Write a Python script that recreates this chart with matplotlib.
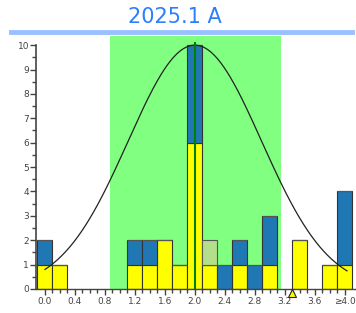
import numpy as np
import matplotlib.pyplot as plt

# Dados do histograma (centros das classes, largura 0.2)
centros = [0.0, 0.2, 1.2, 1.4, 1.6, 1.8, 2.0, 2.2, 2.4, 2.6, 2.8, 3.0, 3.4, 3.8, 4.0]
amarelo = [1, 1, 1, 1, 2, 1, 6, 1, 0, 1, 0, 1, 2, 1, 1]
azul = [1, 0, 1, 1, 0, 0, 4, 0, 1, 1, 1, 2, 0, 0, 3]
verde_claro = [0, 0, 0, 0, 0, 0, 0, 1, 0, 0, 0, 0, 0, 0, 0]

# Curva normal
media = 2.0
desvio = 0.89
pico = 10

# Faixa de tolerância (fundo verde) e marcador
faixa = (0.87, 3.15)
marcador_x = 3.3

rotulos_x = ['0.0', '0.4', '0.8', '1.2', '1.6', '2.0', '2.4', '2.8', '3.2', '3.6', '≥4.0']
valores_x = [0.0, 0.4, 0.8, 1.2, 1.6, 2.0, 2.4, 2.8, 3.2, 3.6, 4.0]

fig = plt.figure(figsize=(3.56, 3.13), dpi=100)
ax = fig.add_axes([0.101, 0.0767, 0.899, 0.808])

largura = 0.2
ax.axvspan(faixa[0], faixa[1], color='#80ff80', zorder=0, lw=0)

ax.bar(centros, amarelo, width=largura, color='#ffff00', edgecolor='#333333', linewidth=0.8, zorder=2)
ax.bar(centros, azul, width=largura, bottom=amarelo, color='#1f77b4', edgecolor='#333333', linewidth=0.8, zorder=2)
base = np.array(amarelo) + np.array(azul)
ax.bar(centros, verde_claro, width=largura, bottom=base, color='#b3de8a', edgecolor='#555555', linewidth=0.8, zorder=2)

# Curva normal
xs = np.linspace(0.0, 4.03, 300)
ys = pico * np.exp(-(xs - media) ** 2 / (2 * desvio ** 2))
ax.plot(xs, ys, color='#222222', lw=0.9, zorder=3)

# Linha da média
ax.plot([media, media], [0, 10.1], color='#008000', lw=1.5, zorder=4)

# Marcador no eixo
ax.plot([marcador_x], [-0.15], marker='^', markersize=6, color='#ffff00',
        markeredgecolor='#222222', markeredgewidth=0.8, clip_on=False, zorder=5)

ax.set_xlim(-0.12, 4.15)
ax.set_ylim(0, 10.37)

ax.spines['top'].set_visible(False)
ax.spines['right'].set_visible(False)
ax.spines['left'].set_bounds(0, 10)
ax.spines['left'].set_color('#444444')
ax.spines['bottom'].set_color('#444444')
ax.spines['left'].set_linewidth(1.2)
ax.spines['bottom'].set_linewidth(1.0)

ax.set_yticks(range(0, 11))
ax.set_yticks(np.arange(0.5, 10, 1.0), minor=True)
ax.set_xticks(valores_x)
ax.set_xticklabels(rotulos_x)
ax.set_xticks(np.arange(0.0, 4.05, 0.1), minor=True)

ax.tick_params(axis='both', which='major', labelsize=6.5, labelcolor='#444444', color='#444444', length=4, width=1)
ax.tick_params(axis='both', which='minor', color='#444444', length=3, width=1)
ax.tick_params(axis='x', pad=2)
ax.tick_params(axis='y', pad=1)

# Título com linha azul
fig.text(0.49, 0.945, '2025.1 A', ha='center', va='center', fontsize=15, color='#2a7fff')
fig.add_artist(plt.Line2D([0.03, 0.99], [0.898, 0.898], color='#99c0ff', lw=3.5))

fig.savefig('out.png', dpi=100)
